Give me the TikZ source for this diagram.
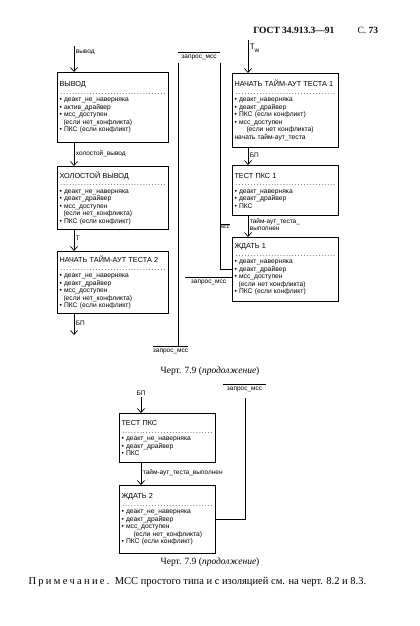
\documentclass[tikz,border=0pt]{standalone}
\usepackage{fontspec}
\setmainfont{Liberation Serif}
\setsansfont{Liberation Sans}
\newfontfamily\spacedfont[LetterSpace=22]{Liberation Serif}
\usetikzlibrary{arrows.meta}
\newcommand{\boxtitle}[1]{{\fontsize{7.3}{8.6}\selectfont #1}}
\newcommand{\dotrule}{\leavevmode\hbox to\hsize{\dotfill}}
\newcommand{\itm}{\textbullet\ }
\begin{document}
\begin{tikzpicture}[
  x=1pt, y=-1pt,
  box/.style={draw, line width=1pt, anchor=north west, align=left, inner xsep=2pt, inner ysep=2.5pt,
    font=\sffamily\fontsize{6.7}{7.5}\selectfont},
  lbox/.style={box, minimum width=111pt, text width=107pt},
  rbox/.style={box, minimum width=106pt, text width=102pt},
  bbox/.style={box, minimum width=96pt, text width=92pt},
  arr/.style={-{Straight Barb[length=4pt,width=7pt]}, line width=0.7pt},
  wire/.style={line width=0.7pt},
  lbl/.style={font=\sffamily\fontsize{6.5}{7.5}\selectfont, inner sep=1.5pt},
  captext/.style={font=\fontsize{9.5}{11}\selectfont}
]
\useasboundingbox (0,0) rectangle (420,626);
\node[anchor=east, font=\bfseries\fontsize{9.5}{11}\selectfont] (gost) at (338,30) {ГОСТ 34.913.3—91};
\node[anchor=west, font=\fontsize{9.5}{11}\selectfont] (page) at (354,30) {С. \textbf{73}};
\node[lbox, minimum height=70pt] (L1) at (57,72) {\boxtitle{ВЫВОД}\\\dotrule\\
  \itm деакт\_не\_наверняка\\\itm актив\_драйвер\\\itm мсс\_доступен\\
  \hspace*{4pt}(если нет\_конфликта)\\\itm ПКС (если конфликт)};
\node[lbox, minimum height=63pt] (L2) at (57,166) {\boxtitle{ХОЛОСТОЙ ВЫВОД}\\\dotrule\\
  \itm деакт\_не\_наверняка\\\itm деакт\_драйвер\\\itm мсс\_доступен\\
  \hspace*{4pt}(если нет\_конфликта)\\\itm ПКС (если конфликт)};
\node[lbox, minimum height=62pt] (L3) at (57,251) {\boxtitle{НАЧАТЬ ТАЙМ-АУТ ТЕСТА 2}\\\dotrule\\
  \itm деакт\_не\_наверняка\\\itm деакт\_драйвер\\\itm мсс\_доступен\\
  \hspace*{4pt}(если нет\_конфликта)\\\itm ПКС (если конфликт)};
\node[rbox, minimum height=74pt] (R1) at (232,73) {\boxtitle{НАЧАТЬ ТАЙМ-АУТ ТЕСТА 1}\\\dotrule\\
  \itm деакт\_наверняка\\\itm деакт\_драйвер\\\itm ПКС (если конфликт)\\\itm мсс\_доступен\\
  \hspace*{12pt}(если нет конфликта)\\начать тайм-аут\_теста};
\node[rbox, minimum height=50pt] (R2) at (232,165) {\boxtitle{ТЕСТ ПКС 1}\\\dotrule\\
  \itm деакт\_наверняка\\\itm деакт\_драйвер\\\itm ПКС};
\node[rbox, minimum height=64pt] (R3) at (232,237) {\boxtitle{ЖДАТЬ 1}\\\dotrule\\
  \itm деакт\_наверняка\\\itm деакт\_драйвер\\\itm мсс\_доступен\\
  \hspace*{4pt}(если нет конфликта)\\\itm ПКС (если конфликт)};
\node[bbox, minimum height=49pt] (B1) at (119,413) {\boxtitle{ТЕСТ ПКС}\\\dotrule\\
  \itm деакт\_не\_наверняка\\\itm деакт\_драйвер\\\itm ПКС};
\node[bbox, minimum height=68pt] (B2) at (119,485) {\boxtitle{ЖДАТЬ 2}\\\dotrule\\
  \itm деакт\_не\_наверняка\\\itm деакт\_драйвер\\\itm мсс\_доступен\\
  \hspace*{12pt}(если нет\_конфликта)\\\itm ПКС (если конфликт)};
\coordinate (inL) at (74,46);
\coordinate (outL) at (74,335);
\coordinate (inR) at (248,40);
\coordinate (inB) at (141,397);
\draw[arr] (inL) -- (inL |- L1.north) node[lbl, pos=0.25, right] {вывод};
\draw[arr] ([xshift=17pt]L1.south west) -- ([xshift=17pt]L2.north west) node[lbl, pos=0.45, right] {холостой\_вывод};
\draw[arr] ([xshift=17pt]L2.south west) -- ([xshift=17pt]L3.north west) node[lbl, pos=0.4, right] {Т};
\draw[arr] ([xshift=17pt]L3.south west) -- (outL) node[lbl, pos=0.45, right] {БП};
\draw[arr] (inR) -- (inR |- R1.north) node[lbl, pos=0.25, right, font=\sffamily\fontsize{8}{9}\selectfont] {T\raisebox{-2.5pt}{\fontsize{6.5}{7}\selectfont w}};
\draw[arr] ([xshift=16pt]R1.south west) -- ([xshift=16pt]R2.north west) node[lbl, pos=0.45, right] {БП};
\draw[arr] ([xshift=16pt]R2.south west) -- ([xshift=16pt]R3.north west) node[lbl, pos=0.4, right, align=left] {тайм-аут\_теста\_\\выполнен};
\draw[arr] (inB) -- (inB |- B1.north) node[lbl, pos=0, above] {БП};
\draw[arr] ([xshift=22pt]B1.south west) -- ([xshift=22pt]B2.north west) node[lbl, pos=0.45, right] {тайм-аут\_теста\_выполнен};
% запрос_мсс
\coordinate (zt1) at (178,52);
\coordinate (zt2) at (220,52);
\draw[wire] (zt1) -- (zt2) node[lbl, midway, below=1pt] {запрос\_мсс};
\coordinate (zb1) at (153,346);
\coordinate (zb2) at (188,346);
\draw[wire] (zb1) -- (zb2) node[lbl, midway, below=1pt] {запрос\_мсс};
\draw[wire] (178,63) -- (178,346);
\draw[wire] (220,63) |- (R3.west);
\draw[wire] (220,224) -- (230,224) node[lbl, midway, below=0pt, font=\sffamily\fontsize{5.5}{6}\selectfont] {мсс};
\coordinate (zq) at (185,277);
\draw[wire] (zq) -- (zq -| R3.west) node[lbl, midway, below=1pt] {запрос\_мсс};
\coordinate (zr1) at (223,384);
\coordinate (zr2) at (266,384);
\draw[wire] (zr1) -- (zr2) node[lbl, midway, below=1pt] {запрос\_мсс};
\draw[wire] (245,398) |- (B2.east);
\node[captext] (cap1) at (210,371) {Черт. 7.9 (\textit{продолжение})};
\node[captext] (cap2) at (210,562) {Черт. 7.9 (\textit{продолжение})};
\node[captext, anchor=west, font=\fontsize{10.5}{12}\selectfont] (note) at (25,582) {{\spacedfont Примечание.}\ \ МСС простого типа и с изоляцией см. на черт. 8.2 и 8.3.};
\end{tikzpicture}
\end{document}
